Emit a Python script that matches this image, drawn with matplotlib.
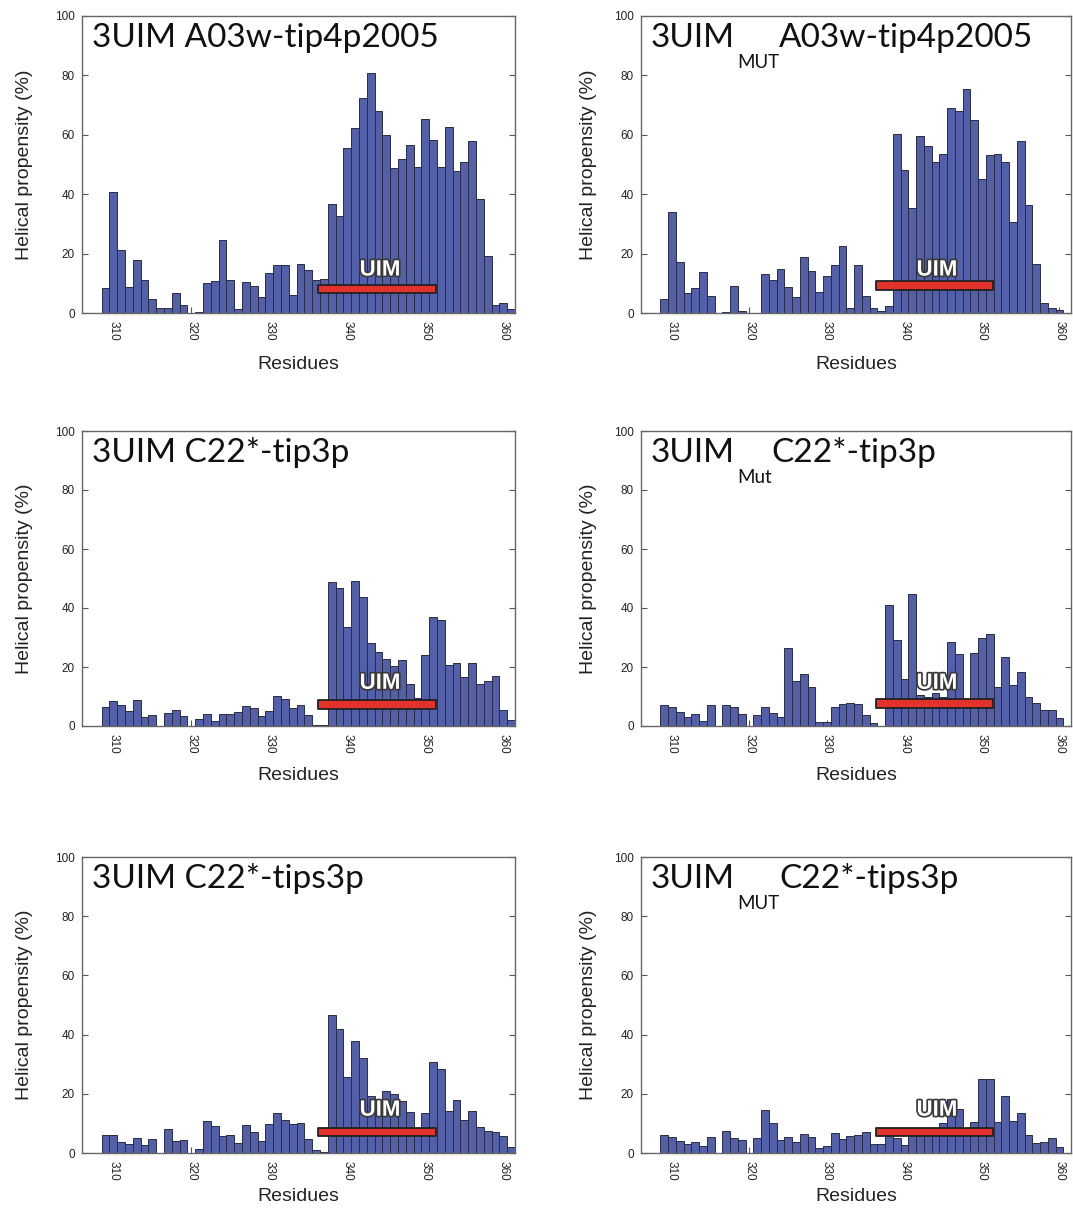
import numpy as np
import matplotlib.pyplot as plt
import matplotlib.patheffects as pe
from matplotlib.patches import Rectangle

plt.rcParams['font.family'] = 'Liberation Sans'

# residue numbers on the x axis
residues = np.arange(309, 362)

# helical propensity (%) per residue, 309..361
a03w_wt = [8.5, 40.8, 21.3, 8.8, 17.9, 11.2, 4.8, 1.6, 1.6, 6.6,
           2.6, 0, 0.3, 10.2, 10.8, 24.7, 11.1, 1.5, 10.6, 9.0,
           5.4, 13.5, 16.0, 16.0, 6.2, 16.4, 14.4, 11.2, 11.5, 36.6,
           32.5, 55.6, 62.2, 72.5, 80.9, 67.9, 60.1, 48.7, 51.8, 56.5,
           49.1, 65.2, 58.4, 49.1, 62.6, 47.8, 51.0, 57.9, 38.4, 19.3,
           2.8, 3.3, 1.5]
a03w_mut = [4.7, 33.9, 17.3, 6.9, 8.3, 13.9, 5.6, 0, 0.3, 9.1,
            0.6, 0, 0, 13.1, 11.0, 14.9, 8.9, 5.5, 18.9, 14.0,
            7.2, 12.6, 16.3, 22.7, 1.7, 16.1, 5.6, 1.6, 0.8, 2.2,
            60.4, 48.0, 35.3, 59.7, 56.1, 50.7, 53.6, 69.1, 68.1, 75.4,
            64.9, 45.2, 53.3, 53.6, 51.0, 30.8, 57.8, 36.3, 16.6, 3.3,
            1.6, 0.9, 0]
c22_tip3p_wt = [6.4, 8.4, 7.2, 5.1, 8.9, 3.1, 3.7, 0, 4.4, 5.5,
                3.4, 0, 2.4, 3.9, 1.8, 4.2, 4.0, 4.6, 6.9, 6.1,
                3.5, 5.1, 10.2, 9.3, 6.0, 7.2, 3.7, 0.4, 0.3, 48.9,
                46.7, 33.5, 49.2, 43.8, 28.2, 25.2, 22.7, 20.3, 22.4, 14.2,
                9.6, 24.2, 36.9, 36.1, 20.7, 21.5, 16.5, 21.5, 14.4, 15.4,
                17.0, 5.4, 2.0]
c22_tip3p_mut = [7.0, 6.3, 4.9, 3.0, 4.0, 1.8, 7.0, 0, 7.0, 6.5,
                 4.1, 0, 3.6, 6.5, 4.4, 3.0, 26.6, 15.3, 17.5, 13.2,
                 1.2, 1.4, 6.5, 7.3, 7.9, 7.4, 3.7, 0.9, 0, 41.1,
                 29.3, 16.0, 44.9, 10.5, 10.0, 11.2, 10.0, 28.4, 24.5, 6.0,
                 24.7, 29.8, 31.3, 13.2, 23.5, 13.8, 18.2, 9.7, 7.8, 5.3,
                 5.5, 2.7, 0]
c22_tips3p_wt = [6.0, 6.1, 3.6, 3.0, 5.2, 2.7, 4.7, 0, 8.2, 4.0,
                 4.4, 0, 1.5, 10.8, 9.2, 5.6, 6.1, 3.4, 9.6, 7.0,
                 3.9, 9.7, 13.4, 11.3, 9.8, 10.3, 4.6, 1.1, 0.3, 46.7,
                 41.9, 25.7, 37.8, 32.2, 19.1, 18.0, 20.8, 19.9, 17.4, 14.0,
                 6.0, 13.4, 30.6, 28.5, 14.3, 17.8, 11.1, 14.3, 8.8, 7.3,
                 7.0, 5.6, 2.0]
c22_tips3p_mut = [6.2, 5.5, 3.9, 2.9, 3.7, 2.5, 5.4, 0, 7.3, 4.9,
                  4.4, 0, 4.9, 14.6, 10.2, 4.3, 5.5, 3.7, 6.5, 5.3,
                  1.8, 2.5, 6.7, 4.8, 5.7, 6.1, 7.2, 2.9, 3.0, 6.0,
                  5.1, 2.8, 6.0, 7.0, 7.0, 8.0, 10.1, 18.3, 15.0, 7.0,
                  10.6, 25.1, 25.1, 10.6, 19.2, 10.9, 13.4, 6.1, 3.5, 3.6,
                  4.9, 1.9, 0]

series = [a03w_wt, a03w_mut, c22_tip3p_wt, c22_tip3p_mut, c22_tips3p_wt, c22_tips3p_mut]

# panel titles: main part, subscript, rest
titles = [("3UIM A03w-tip4p2005", None, None),
          ("3UIM", "MUT", "A03w-tip4p2005"),
          ("3UIM C22*-tip3p", None, None),
          ("3UIM", "Mut", "C22*-tip3p"),
          ("3UIM C22*-tips3p", None, None),
          ("3UIM", "MUT", "C22*-tips3p")]

# UIM region marker
uim_start, uim_end = 336.3, 351.4
uim_level = [8.0, 9.3, 7.3, 7.6, 7.1, 7.1]

W, H = 1073, 1211
fig = plt.figure(figsize=(W / 100, H / 100), dpi=100)

cols = [(82, 433), (641, 430)]
rows = [(16, 313), (431, 726), (857, 1153)]
ylab_x = [-0.113, -0.102]
xlab_y = [-0.172, -0.169, -0.148]

for i, vals in enumerate(series):
    r, c = divmod(i, 2)
    left, width = cols[c]
    top, bottom = rows[r]
    ax = fig.add_axes([left / W, 1 - bottom / H, width / W, (bottom - top) / H])

    ax.bar(residues, vals, width=1.0, color='#5360a8', edgecolor='#2a2c45',
           linewidth=0.7, zorder=2)

    ax.set_xlim(306, 361.5)
    ax.set_ylim(0, 100)
    ax.set_xticks(range(310, 361, 10))
    ax.set_yticks(range(0, 101, 20))
    ax.tick_params(direction='in', length=4, width=0.8, color='#555555',
                   labelsize=8.5, labelcolor='#222222')
    ax.tick_params(axis='y', right=True, pad=5)
    ax.tick_params(axis='x', pad=6, labelrotation=-90)
    for sp in ax.spines.values():
        sp.set_color('#666666')
        sp.set_linewidth(1.0)

    ax.set_xlabel('Residues', fontsize=14, color='#222222', va='center')
    ax.set_ylabel('Helical propensity (%)', fontsize=14, color='#222222')
    ax.xaxis.set_label_coords(0.5, xlab_y[r])
    ax.yaxis.set_label_coords(ylab_x[c], 0.5)

    # UIM bar and label
    lvl = uim_level[i]
    ax.add_patch(Rectangle((uim_start, lvl - 1.4), uim_end - uim_start, 2.8,
                           facecolor='#e3322b', edgecolor='#222222', lw=1.3,
                           joinstyle='round', zorder=3))
    ax.text(344.2, 12.6, 'UIM', ha='center', va='baseline', fontsize=16,
            fontweight='bold', color='white', zorder=4,
            path_effects=[pe.withStroke(linewidth=2.5, foreground='#3a3a3a')])

    main, sub, rest = titles[i]
    t = ax.annotate(main, xy=(0, 1), xycoords='axes fraction', xytext=(10, -31),
                    textcoords='offset pixels', ha='left', va='baseline',
                    fontsize=24, family='Lato', color='#111111')
    if sub:
        s = ax.annotate(sub, xy=(1, 1), xycoords=(t, 'axes fraction'),
                        xytext=(2, -52), textcoords='offset pixels',
                        ha='left', va='baseline',
                        fontsize=13.5, family='Lato', color='#111111')
        ax.annotate(rest, xy=(1, 1), xycoords=(s, 'axes fraction'),
                    xytext=(0, -31), textcoords='offset pixels',
                    ha='left', va='baseline',
                    fontsize=24, family='Lato', color='#111111')

fig.savefig('out.png', dpi=100)
